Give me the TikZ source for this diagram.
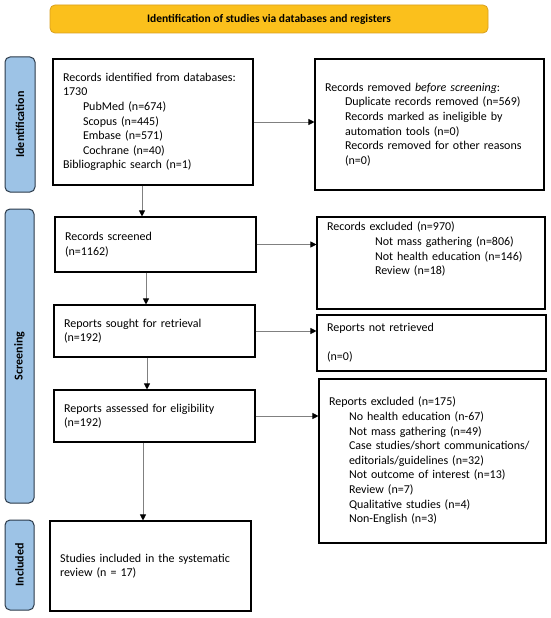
\documentclass[tikz,border=0pt]{standalone}
\usepackage{fontspec}
\setmainfont{Carlito}
\usetikzlibrary{arrows.meta,calc}
\definecolor{bannerfill}{HTML}{FBC01C}
\definecolor{bannerdraw}{HTML}{D9A020}
\definecolor{labfill}{HTML}{9DC3E6}
\definecolor{labdraw}{HTML}{2B3A4A}
\definecolor{arrgray}{HTML}{808080}
\begin{document}
\begin{tikzpicture}[x=1pt,y=-1pt,
  box/.style={draw=black,line width=1.1pt,rectangle,align=left,inner xsep=10pt,inner ysep=2pt,font=\fontsize{12}{14.6}\selectfont},
  sidelab/.style={draw=labdraw,fill=labfill,line width=1pt,rounded corners=5pt},
  labtxt/.style={rotate=90,font=\fontsize{12}{14}\selectfont\bfseries},
  banner/.style={draw=bannerdraw,fill=bannerfill,line width=0.8pt,rounded corners=5pt,font=\fontsize{11.5}{13}\selectfont\bfseries},
  arr/.style={draw=arrgray,line width=0.8pt,-{Triangle[length=6pt,width=6pt,fill=black,color=black]}}]
\useasboundingbox (0,0) rectangle (550,618);
\fill[white] (0,0) rectangle (550,618);
\newcommand{\ind}{\hspace*{20pt}}
\newcommand{\indd}{\hspace*{48pt}}

\node[banner,minimum width=438pt,minimum height=28pt] (ban) at (269,19) {Identification of studies via databases and registers};

\node[sidelab,minimum width=30pt,minimum height=135pt] (lab1) at (20,124.5) {};
\node[labtxt] (lab1t) at (lab1.center) {Identification};
\node[sidelab,minimum width=29pt,minimum height=294pt] (lab2) at (19.5,356) {};
\node[labtxt] (lab2t) at (lab2.center) {Screening};
\node[sidelab,minimum width=29pt,minimum height=90pt] (lab3) at (19.5,565) {};
\node[labtxt] (lab3t) at (lab3.center) {Included};

\node[box,text width=180pt,minimum height=126pt] (b1) at (153,122) {Records identified from databases:\\1730\\\ind PubMed (n=674)\\\ind Scopus (n=445)\\\ind Embase (n=571)\\\ind Cochrane (n=40)\\Bibliographic search (n=1)};
\node[box,text width=181pt,minimum height=55pt] (b2) at (155.5,244.5) {Records screened\\(n=1162)};
\node[box,text width=181pt,minimum height=52pt] (b3) at (154.5,331) {Reports sought for retrieval\\(n=192)};
\node[box,text width=181pt,minimum height=52pt] (b4) at (154.5,416) {Reports assessed for eligibility\\(n=192)};
\node[box,text width=181pt,minimum height=90pt] (b5) at (150.5,566) {Studies included in the systematic\\review (n = 17)};

\node[box,text width=209pt,minimum height=131pt] (r1) at (429.5,124.5) {Records removed \emph{before screening}:\\\ind Duplicate records removed (n=569)\\\ind Records marked as ineligible by\\\ind automation tools (n=0)\\\ind Records removed for other reasons\\\ind (n=0)};
\node[box,text width=208pt,minimum height=92pt] (r2) at (431,263) {Records excluded (n=970)\\\indd Not mass gathering (n=806)\\\indd Not health education (n=146)\\\indd Review (n=18)\\~\\~};
\node[box,text width=209pt,minimum height=56pt] (r3) at (431.5,343) {Reports not retrieved\\~\\(n=0)};
\node[box,text width=207pt,minimum height=164pt] (r4) at (432.5,461) {Reports excluded (n=175)\\\ind No health education (n-67)\\\ind Not mass gathering (n=49)\\\ind Case studies/short communications/\\\ind editorials/guidelines (n=32)\\\ind Not outcome of interest (n=13)\\\ind Review (n=7)\\\ind Qualitative studies (n=4)\\\ind Non-English (n=3)};

\draw[arr] (b1.east) -- (b1.east -| r1.west);
\draw[arr] (b2.east) -- (b2.east -| r2.west);
\draw[arr] (b3.east) -- (b3.east -| r3.west);
\draw[arr] (b4.east) -- (b4.east -| r4.west);

\draw[arr] (b1.south -| 142,0) -- (b2.north -| 142,0);
\draw[arr] (b2.south -| 146,0) -- (b3.north -| 146,0);
\draw[arr] (b3.south -| 147,0) -- (b4.north -| 147,0);
\draw[arr] (b4.south -| 143,0) -- (b5.north -| 143,0);
\end{tikzpicture}
\end{document}
